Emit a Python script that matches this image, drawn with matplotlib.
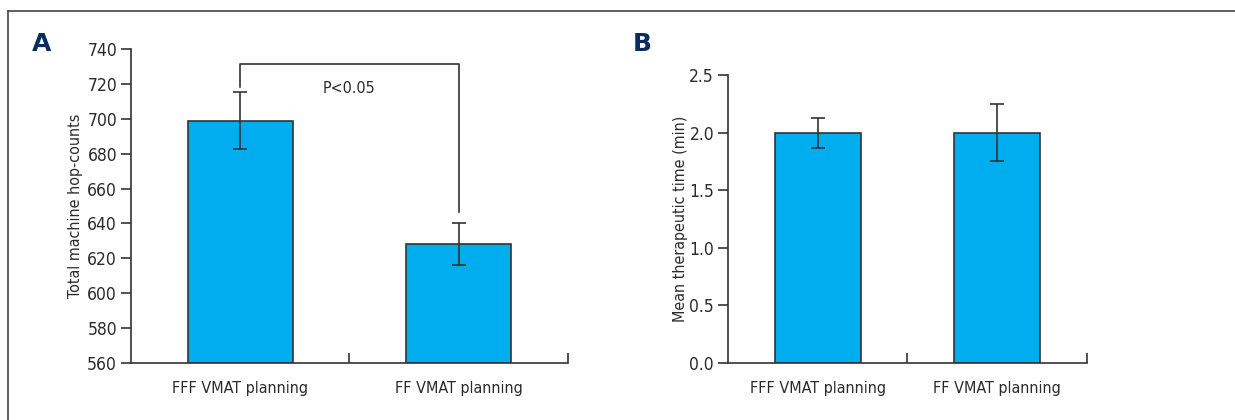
import matplotlib.pyplot as plt
import numpy as np

plt.rcParams['font.family'] = ['DejaVu Sans']
plt.rcParams['font.stretch'] = 'condensed'

groups = ['FFF VMAT planning', 'FF VMAT planning']
hop_counts = [699, 628]
hop_err = [16.5, 12]
times = [2.0, 2.0]
time_err = [0.13, 0.25]

bar_color = '#00AEEF'
edge_color = '#333333'
text_color = '#2b2b2b'

fig = plt.figure(figsize=(12.35, 4.2), dpi=100)

# outer frame (only top and left edges show)
fig.add_artist(plt.Line2D([8/1235, 1], [1-11/420, 1-11/420], color='#444444', lw=1.2))
fig.add_artist(plt.Line2D([8/1235, 8/1235], [0, 1-11/420], color='#444444', lw=1.2))


def style_axes(ax):
    ax.spines['right'].set_visible(False)
    ax.spines['top'].set_visible(False)
    for s in ['left', 'bottom']:
        ax.spines[s].set_color(edge_color)
        ax.spines[s].set_linewidth(1.2)
    ax.set_xlim(-0.5, 1.5)
    ax.set_xticks([0.5, 1.5])
    ax.set_xticklabels([])
    ax.tick_params(axis='x', direction='in', length=7, width=1.2, color=edge_color)
    ax.tick_params(axis='y', direction='out', length=7, width=1.2, color=edge_color,
                   labelsize=12.5, labelcolor=text_color, pad=3)
    ax.set_xticks([0, 1], minor=True)
    ax.set_xticklabels(groups, minor=True, fontsize=11.5, color=text_color)
    ax.tick_params(axis='x', which='minor', length=0, pad=13)


x = np.arange(len(groups))

# panel A
ax1 = fig.add_axes([131/1235, 1-363/420, 436.7/1235, 314/420])
ax1.bar(x, np.array(hop_counts) - 560, bottom=560, width=0.48, color=bar_color,
        edgecolor=edge_color, linewidth=1.2, zorder=2)
ax1.errorbar(x, hop_counts, yerr=hop_err, fmt='none', ecolor=edge_color,
             elinewidth=1.2, capsize=5, capthick=1.2, zorder=3)
ax1.set_ylim(560, 740)
ax1.set_yticks(np.arange(560, 741, 20))
style_axes(ax1)
ax1.set_ylabel('Total machine hop-counts', fontsize=11.5, color=text_color, labelpad=3)
ax1.plot([0, 0, 1, 1], [718.4, 731.6, 731.6, 646.7], color=edge_color, lw=1.2,
         clip_on=False)
ax1.text(0.5, 717.5, 'P<0.05', ha='center', va='center', fontsize=11.5, color=text_color)

# panel B
ax2 = fig.add_axes([728/1235, 1-363/420, 359/1235, 288/420])
ax2.bar(x, times, width=0.48, color=bar_color, edgecolor=edge_color,
        linewidth=1.2, zorder=2)
ax2.errorbar(x, times, yerr=time_err, fmt='none', ecolor=edge_color,
             elinewidth=1.2, capsize=5, capthick=1.2, zorder=3)
ax2.set_ylim(0, 2.5)
ax2.set_yticks(np.arange(0, 2.51, 0.5))
ax2.set_yticklabels(['%.1f' % v for v in np.arange(0, 2.51, 0.5)])
style_axes(ax2)
ax2.set_ylabel('Mean therapeutic time (min)', fontsize=11.5, color=text_color, labelpad=1)

fig.text(42/1235, 1-44/420, 'A', fontsize=18, fontweight='bold', color='#0B2D5B',
         ha='center', va='center', family='DejaVu Sans', stretch='normal')
fig.text(642/1235, 1-44/420, 'B', fontsize=18, fontweight='bold', color='#0B2D5B',
         ha='center', va='center', family='DejaVu Sans', stretch='normal')

fig.savefig('out.png', dpi=100)
